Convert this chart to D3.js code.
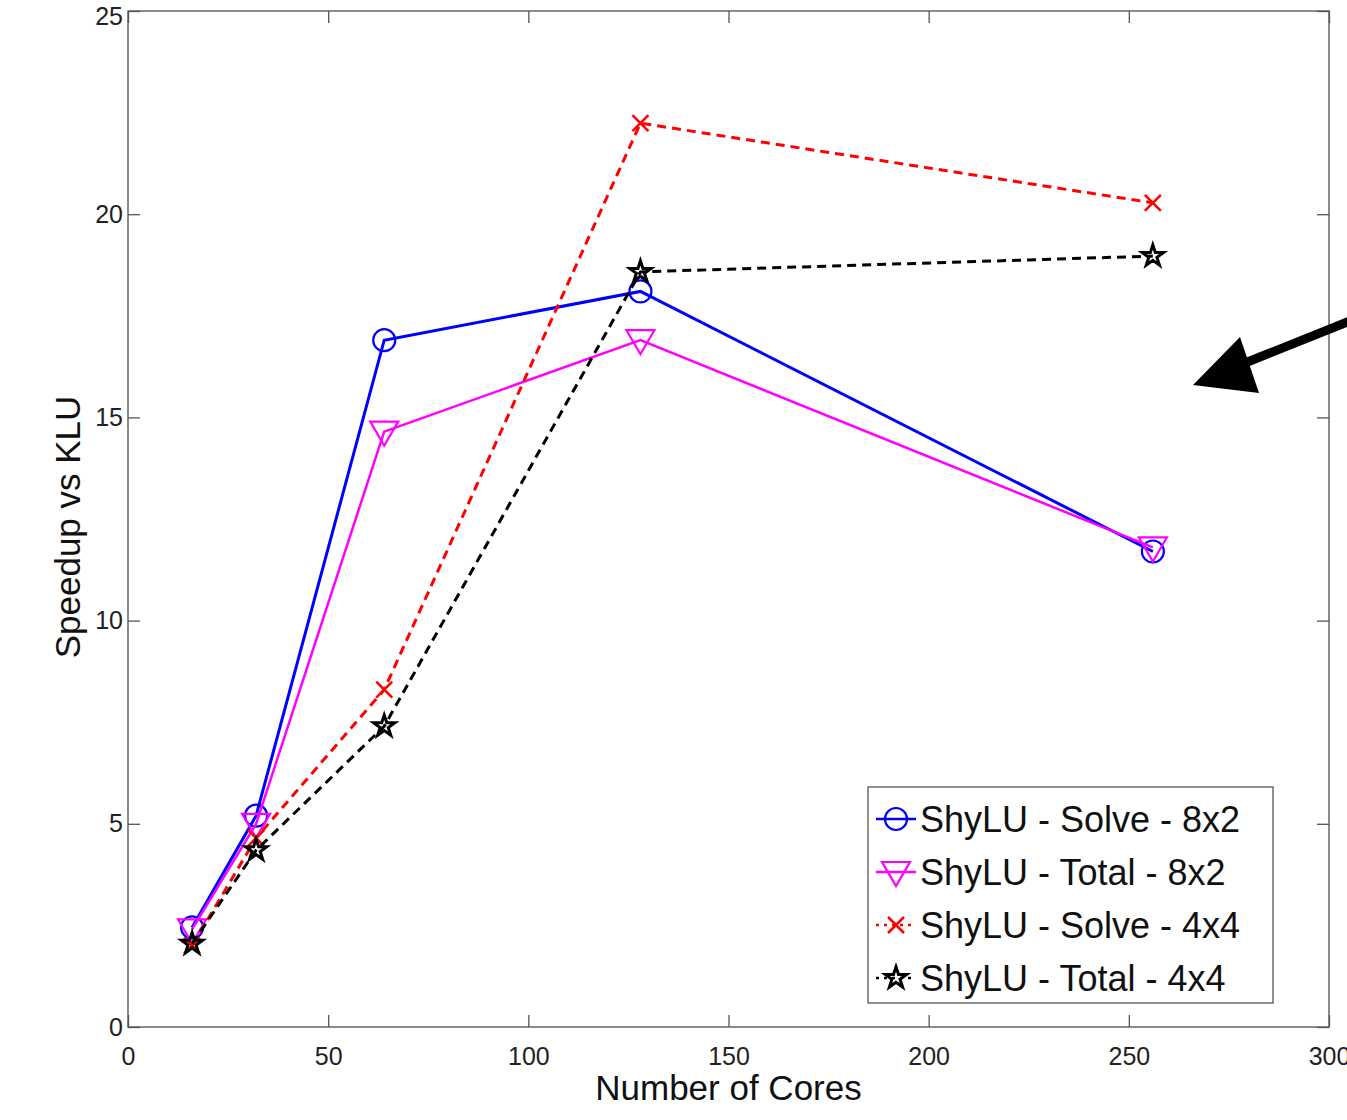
<!DOCTYPE html>
<html lang="en">
<head>
    <script src='https://d3js.org/d3.v7.min.js'></script>
    <style>
        body { margin: 0; background: #fff; }
        text { font-family: "Liberation Sans", Arial, sans-serif; }
    </style>
</head>
<body>
<script>
    // data
    var cores = [16, 32, 64, 128, 256];
    var solve8x2 = [2.45, 5.2, 16.9, 18.1, 11.7];
    var total8x2 = [2.4, 5.0, 14.65, 16.9, 11.8];
    var solve4x4 = [2.0, 4.65, 8.3, 22.24, 20.28];
    var total4x4 = [2.05, 4.35, 7.4, 18.58, 18.97];
    var seriesNames = ["ShyLU - Solve - 8x2", "ShyLU - Total - 8x2", "ShyLU - Solve - 4x4", "ShyLU - Total - 4x4"];
    var xTicks = [0, 50, 100, 150, 200, 250, 300];
    var yTicks = [0, 5, 10, 15, 20, 25];

    const W = 1347, H = 1120;
    const pLeft = 128, pRight = 1329, pTop = 11, pBottom = 1027;

    const svg = d3.select("body").append("svg")
        .attr("width", W).attr("height", H);

    var x = d3.scaleLinear().domain([0, 300]).range([pLeft, pRight]);
    var y = d3.scaleLinear().domain([0, 25]).range([pBottom, pTop]);

    // frame
    svg.append("rect")
        .attr("x", pLeft).attr("y", pTop)
        .attr("width", pRight - pLeft).attr("height", pBottom - pTop)
        .attr("fill", "none").attr("stroke", "#666").attr("stroke-width", 1.5);

    // axes (ticks inward, mirrored)
    function styleAxis(g) {
        g.select(".domain").remove();
        g.selectAll("line").attr("stroke", "#555").attr("stroke-width", 1.3);
        g.selectAll("text").attr("fill", "#222").attr("font-size", 25);
    }
    svg.append("g").attr("transform", "translate(0," + pBottom + ")")
        .call(d3.axisBottom(x).tickValues(xTicks).tickSize(-12).tickPadding(20))
        .call(styleAxis);
    svg.append("g").attr("transform", "translate(0," + pTop + ")")
        .call(d3.axisTop(x).tickValues(xTicks).tickSize(-12).tickFormat(""))
        .call(styleAxis);
    svg.append("g").attr("transform", "translate(" + pLeft + ",0)")
        .call(d3.axisLeft(y).tickValues(yTicks).tickSize(-12).tickPadding(5))
        .call(styleAxis)
        .selectAll("text").attr("dy", function(d) { return d === 25 ? "0.55em" : "0.32em"; });
    svg.append("g").attr("transform", "translate(" + pRight + ",0)")
        .call(d3.axisRight(y).tickValues(yTicks).tickSize(-12).tickFormat(""))
        .call(styleAxis);

    // axis labels
    svg.append("text").attr("x", (pLeft + pRight) / 2).attr("y", 1100)
        .attr("text-anchor", "middle").attr("font-size", 35).attr("fill", "#111")
        .text("Number of Cores");
    svg.append("text").attr("transform", "translate(80," + 527 + ") rotate(-90)")
        .attr("text-anchor", "middle").attr("font-size", 35).attr("fill", "#111")
        .text("Speedup vs KLU");

    var series = [
        { name: seriesNames[0], values: solve8x2, color: "#0000ff", dash: null, width: 3, marker: "circle" },
        { name: seriesNames[1], values: total8x2, color: "#ff00ff", dash: null, width: 2.5, marker: "triangle" },
        { name: seriesNames[2], values: solve4x4, color: "#ff0000", dash: "9,6", width: 3, marker: "x" },
        { name: seriesNames[3], values: total4x4, color: "#000000", dash: "9,6", width: 3, marker: "star" }
    ];

    var line = d3.line().x(function(d) { return x(d[0]); }).y(function(d) { return y(d[1]); });

    function drawMarker(g, type, cx, cy, color) {
        if (type === "circle") {
            g.append("circle").attr("cx", cx).attr("cy", cy).attr("r", 11)
                .attr("fill", "none").attr("stroke", color).attr("stroke-width", 2.2);
        } else if (type === "triangle") {
            g.append("path").attr("d", "M" + (cx - 14) + "," + (cy - 10) + "L" + (cx + 14) + "," + (cy - 10) + "L" + cx + "," + (cy + 14) + "Z")
                .attr("fill", "none").attr("stroke", color).attr("stroke-width", 2.2);
        } else if (type === "x") {
            g.append("path").attr("d", "M" + (cx - 8) + "," + (cy - 8) + "L" + (cx + 8) + "," + (cy + 8) + "M" + (cx - 8) + "," + (cy + 8) + "L" + (cx + 8) + "," + (cy - 8))
                .attr("stroke", color).attr("stroke-width", 2.5);
        } else {
            g.append("path").attr("d", d3.symbol(d3.symbolStar, 140)())
                .attr("transform", "translate(" + cx + "," + cy + ")")
                .attr("fill", "none").attr("stroke", color).attr("stroke-width", 3);
        }
    }

    series.forEach(function(s) {
        var pts = cores.map(function(c, i) { return [c, s.values[i]]; });
        svg.append("path").datum(pts)
            .attr("d", line).attr("fill", "none")
            .attr("stroke", s.color).attr("stroke-width", s.width)
            .attr("stroke-dasharray", s.dash);
        var g = svg.append("g");
        pts.forEach(function(p) { drawMarker(g, s.marker, x(p[0]), y(p[1]), s.color); });
    });

    // legend
    var lg = svg.append("g");
    lg.append("rect").attr("x", 868).attr("y", 787).attr("width", 405).attr("height", 216)
        .attr("fill", "#fff").attr("stroke", "#555").attr("stroke-width", 1.3);
    series.forEach(function(s, i) {
        var ly = 819 + i * 53;
        lg.append("line").attr("x1", 876).attr("x2", 916).attr("y1", ly).attr("y2", ly)
            .attr("stroke", s.color).attr("stroke-width", 2.5)
            .attr("stroke-dasharray", s.dash ? "3,5" : null);
        drawMarker(lg, s.marker, 896, ly, s.color);
        lg.append("text").attr("x", 920).attr("y", ly + 13)
            .attr("font-size", 36).attr("fill", "#111").text(s.name);
    });

    // annotation arrow
    svg.append("line").attr("x1", 1350).attr("y1", 321).attr("x2", 1240).attr("y2", 365)
        .attr("stroke", "#000").attr("stroke-width", 9);
    svg.append("path").attr("d", "M1193,385L1240,337L1259,393Z").attr("fill", "#000");
</script>
</body>
</html>
